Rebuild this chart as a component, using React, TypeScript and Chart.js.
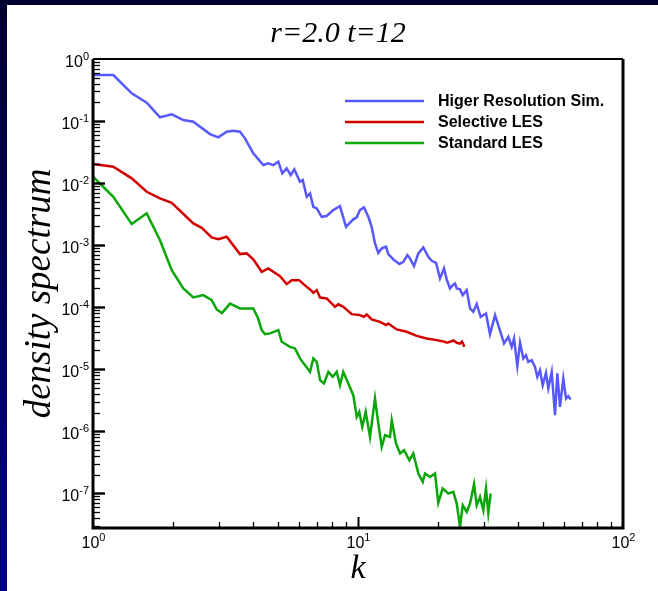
import { useEffect, useRef } from "react";
import { Chart, registerables } from "chart.js";

Chart.register(...registerables);

// ---------------- data ----------------
const chartTitle = "r=2.0 t=12";
const xAxisTitle = "k";
const yAxisTitle = "density spectrum";

const seriesLabels = ["Higer Resolution Sim.", "Selective LES", "Standard LES"];
const seriesColors = ["#5858ff", "#d40000", "#0aa60a"];

const xRange = [1, 100];
const yRange = [2.75e-8, 1];

// Higher resolution simulation
const hiresK = [
  1, 1.193, 1.4, 1.595, 1.79, 1.982, 2.192, 2.391, 2.764, 2.971, 3.195, 3.384, 3.586, 3.746,
  4.026, 4.391, 4.587, 4.791, 5.004, 5.181, 5.383, 5.572, 5.75, 6.04, 6.185, 6.405, 6.592,
  6.783, 6.987, 7.295, 7.619, 8.068, 8.55, 9.01, 9.6, 9.89, 10.17, 10.53, 10.94, 11.26, 11.59,
  11.93, 12.29, 12.76, 13.01, 13.59, 14.32, 14.83, 15.35, 15.71, 16.27, 16.89, 17.64, 18.42,
  18.97, 19.7, 20.39, 21.11, 21.61, 22.24, 22.77, 23.23, 23.58, 24.26, 24.84, 25.72, 26.47,
  27.24, 28.05, 29.04, 30.41, 31.49, 32.89, 34.14, 35.56, 36.92, 38.02, 38.8, 39.92, 40.87,
  42.06, 43.05, 43.92, 45.24, 46.55, 47.49, 48.62, 49.77, 51.22, 52.25, 53.83, 55.39, 56.51,
  57.85, 59.53, 60.95, 62.18, 63.48,
];
const hiresE = [
  0.552, 0.552, 0.28, 0.197, 0.1148, 0.128, 0.1038, 0.0975, 0.0617, 0.0546, 0.0672, 0.0698,
  0.0672, 0.0526, 0.0301, 0.0195, 0.0208, 0.0195, 0.0221, 0.01434, 0.01726, 0.01346, 0.01663,
  0.0105, 0.01118, 0.00601, 0.00682, 0.00415, 0.00391, 0.00286, 0.00294, 0.00367, 0.00426,
  0.00197, 0.0026, 0.0028, 0.00367, 0.00406, 0.00286, 0.00197, 0.001065, 0.000751, 0.000885,
  0.00094, 0.000716, 0.000588, 0.000494, 0.000538, 0.00069, 0.00061, 0.000459, 0.000735,
  0.000918, 0.000648, 0.000558, 0.000518, 0.00029, 0.000421, 0.00028, 0.0002, 0.000226,
  0.000241, 0.0002, 0.000193, 0.000156, 0.000188, 9.53e-5, 8.39e-5, 1.12e-4, 6.98e-5, 7.91e-5,
  3.67e-5, 7.43e-5, 4.53e-5, 2.6e-5, 3.32e-5, 2.29e-5, 3.13e-5, 1.12e-5, 2.66e-5, 1.49e-5,
  1.68e-5, 1.31e-5, 1.4e-5, 1.09e-5, 7.5e-6, 9.64e-6, 5.52e-6, 8.71e-6, 4.89e-6, 9.04e-6,
  1.81e-6, 8.53e-6, 2.47e-6, 7.08e-6, 3.37e-6, 3.67e-6, 3.25e-6,
];

// Selective LES
const selectiveK = [
  1, 1.193, 1.4, 1.595, 1.79, 1.982, 2.391, 2.572, 2.805, 2.971, 3.195, 3.586, 3.802, 4.026,
  4.331, 4.587, 5.078, 5.383, 5.621, 5.99, 6.405, 6.592, 6.783, 6.987, 7.19, 7.619, 8.19, 8.43,
  8.8, 9.47, 10.17, 10.53, 10.79, 11.26, 12.11, 12.76, 13.01, 14.0, 15.27, 16.66, 18.16, 19.82,
  20.99, 21.67, 22.24, 22.94, 23.58, 24.26, 24.69, 24.97, 25.18,
];
const selectiveE = [
  0.0203, 0.0183, 0.0119, 0.00724, 0.00567, 0.00481, 0.00224, 0.0019, 0.00133, 0.00124,
  0.00136, 0.000716, 0.000735, 0.000588, 0.000371, 0.000421, 0.000316, 0.000235, 0.000272,
  0.000272, 0.000212, 0.000193, 0.00017, 0.000188, 0.000143, 0.000138, 0.000101, 0.000111,
  0.000101, 7.71e-5, 7.43e-5, 6.98e-5, 7.62e-5, 6.34e-5, 5.79e-5, 5.13e-5, 5.46e-5, 4.37e-5,
  4.0e-5, 3.44e-5, 3.13e-5, 2.94e-5, 2.8e-5, 2.68e-5, 2.76e-5, 2.9e-5, 2.66e-5, 2.58e-5,
  2.78e-5, 2.53e-5, 2.29e-5,
];

// Standard LES
const standardK = [
  1, 1.193, 1.4, 1.595, 1.79, 1.982, 2.192, 2.391, 2.608, 2.805, 2.929, 3.067, 3.289, 3.586,
  4.026, 4.195, 4.331, 4.457, 4.656, 5.004, 5.154, 5.539, 5.785, 6.04, 6.592, 6.783, 6.987,
  7.19, 7.44, 7.73, 8.03, 8.31, 8.55, 8.8, 9.19, 9.6, 9.89, 10.11, 10.38, 10.69, 11.1, 11.59,
  11.93, 12.29, 12.65, 13.21, 13.41, 13.91, 14.41, 14.92, 15.62, 16.17, 16.89, 17.55, 17.9,
  18.7, 19.53, 20.09, 20.87, 21.92, 22.89, 23.58, 24.26, 24.84, 25.72, 26.47, 27.41, 28.05,
  28.86, 29.71, 30.41, 31.02, 31.68,
];
const standardE = [
  0.01264, 0.00601, 0.00218, 0.00325, 0.0012, 0.000395, 0.0002, 0.000143, 0.000156, 0.00013,
  9.18e-5, 8.0e-5, 1.14e-4, 9.53e-5, 9.53e-5, 6.65e-5, 4.26e-5, 3.67e-5, 3.77e-5, 4.26e-5,
  2.76e-5, 2.29e-5, 2.16e-5, 1.49e-5, 9.04e-6, 1.49e-5, 1.31e-5, 6.65e-6, 5.88e-6, 9.04e-6,
  7.5e-6, 9.04e-6, 5.52e-6, 9.04e-6, 5.88e-6, 3.81e-6, 1.7e-6, 2.05e-6, 1.17e-6, 2.05e-6,
  8.09e-7, 3.37e-6, 1.33e-6, 5.58e-7, 8.61e-7, 8.09e-7, 1.5e-6, 6.33e-7, 4.37e-7, 4.94e-7,
  3.41e-7, 4.37e-7, 2.08e-7, 1.52e-7, 2.08e-7, 1.83e-7, 2.08e-7, 6.98e-8, 1.19e-7, 9.89e-8,
  1.05e-7, 6.82e-8, 2.86e-8, 6.4e-8, 4.99e-8, 6.82e-8, 1.4e-7, 6.4e-8, 8.71e-8, 5.32e-8,
  1.19e-7, 4.81e-8, 9.89e-8,
];

// ---------------- helpers ----------------
const isPow10 = (v: number) => Math.abs(Math.log10(v) - Math.round(Math.log10(v))) < 1e-7;
const isIntMultiple = (v: number) => {
  const m = v / Math.pow(10, Math.floor(Math.log10(v) + 1e-9));
  return Math.abs(m - Math.round(m)) < 1e-6;
};

const pts = (k: number[], e: number[]) => k.map((x, i) => ({ x, y: e[i] }));

const BASE_FONT = "16px 'Liberation Sans', Arial, sans-serif";
const EXP_FONT = "11px 'Liberation Sans', Arial, sans-serif";

// draws "10" with a raised exponent; anchor: 'right' (y axis) or 'center' (x axis)
function drawPow(ctx: any, exp: number, x: number, baseline: number, anchor: "right" | "center") {
  const e = String(exp);
  ctx.font = BASE_FONT;
  const wb = ctx.measureText("10").width;
  ctx.font = EXP_FONT;
  const we = ctx.measureText(e).width;
  const w = wb + we;
  const x0 = anchor === "right" ? x - w : x - w / 2;
  ctx.textAlign = "left";
  ctx.textBaseline = "alphabetic";
  ctx.font = BASE_FONT;
  ctx.fillText("10", x0, baseline);
  ctx.font = EXP_FONT;
  ctx.fillText(e, x0 + wb, baseline - 7);
}

const framePlugin = {
  id: "frame",
  afterDraw(chart: any) {
    const { ctx, chartArea: a, scales } = chart;
    const xs = scales.x;
    const ys = scales.y;
    ctx.save();
    ctx.strokeStyle = "#000";
    ctx.fillStyle = "#000";
    // x ticks (inward) and decade labels
    for (const t of xs.ticks) {
      const v = t.value;
      if (!isIntMultiple(v)) continue;
      const px = Math.round(xs.getPixelForValue(v)) + 0.5;
      const major = isPow10(v);
      if (major) drawPow(ctx, Math.round(Math.log10(v)), px, a.bottom + 20, "center");
      if (v <= xRange[0] || v >= xRange[1]) continue;
      ctx.lineWidth = major ? 2 : 1.3;
      ctx.beginPath();
      ctx.moveTo(px, a.bottom);
      ctx.lineTo(px, a.bottom - (major ? 11 : 6));
      ctx.stroke();
    }
    // y ticks (inward) and decade labels
    for (const t of ys.ticks) {
      const v = t.value;
      if (!isIntMultiple(v)) continue;
      const py = Math.round(ys.getPixelForValue(v)) + 0.5;
      const major = isPow10(v);
      if (major) drawPow(ctx, Math.round(Math.log10(v)), a.left - 4, py + 7, "right");
      if (v <= yRange[0] || v >= yRange[1]) continue;
      ctx.lineWidth = major ? 2.4 : 1.3;
      ctx.beginPath();
      ctx.moveTo(a.left, py);
      ctx.lineTo(a.left + (major ? 12 : 7), py);
      ctx.stroke();
    }
    // frame
    ctx.lineWidth = 3;
    ctx.beginPath();
    ctx.moveTo(a.left, a.top);
    ctx.lineTo(a.left, a.bottom);
    ctx.lineTo(a.right, a.bottom);
    ctx.lineTo(a.right, a.top);
    ctx.stroke();
    ctx.lineWidth = 2;
    ctx.beginPath();
    ctx.moveTo(a.left, a.top);
    ctx.lineTo(a.right, a.top);
    ctx.stroke();

    // legend
    const ds = chart.data.datasets;
    ctx.font = "bold 16px 'Liberation Sans', Arial, sans-serif";
    ctx.textAlign = "left";
    ctx.textBaseline = "middle";
    ds.forEach((d: any, i: number) => {
      const y = a.top + 42 + i * 21;
      ctx.strokeStyle = d.borderColor;
      ctx.lineWidth = 2.5;
      ctx.beginPath();
      ctx.moveTo(a.left + 252, y);
      ctx.lineTo(a.left + 331, y);
      ctx.stroke();
      ctx.fillStyle = "#000";
      ctx.fillText(d.label, a.left + 345, y + 1);
    });

    // titles
    ctx.fillStyle = "#000";
    ctx.font = "italic 30px 'Liberation Serif', 'Times New Roman', serif";
    ctx.textAlign = "center";
    ctx.textBaseline = "alphabetic";
    ctx.fillText(chartTitle, (a.left + a.right) / 2 - 20, 42);
    ctx.font = "italic 34px 'Liberation Serif', 'Times New Roman', serif";
    ctx.fillText(xAxisTitle, (a.left + a.right) / 2, 578);
    ctx.save();
    ctx.translate(50, (a.top + a.bottom) / 2);
    ctx.rotate(-Math.PI / 2);
    ctx.font = "italic 37px 'Liberation Serif', 'Times New Roman', serif";
    ctx.fillText(yAxisTitle, 0, 0);
    ctx.restore();
    ctx.restore();
  },
};

export default function App() {
  const ref = useRef<HTMLCanvasElement | null>(null);
  useEffect(() => {
    if (!ref.current) return;
    const chart = new Chart(ref.current, {
      type: "scatter",
      data: {
        datasets: [
          { label: seriesLabels[0], data: pts(hiresK, hiresE), borderColor: seriesColors[0] },
          { label: seriesLabels[1], data: pts(selectiveK, selectiveE), borderColor: seriesColors[1] },
          { label: seriesLabels[2], data: pts(standardK, standardE), borderColor: seriesColors[2] },
        ].map((d) => ({
          ...d,
          showLine: true,
          borderWidth: 2.5,
          pointRadius: 0,
          pointHoverRadius: 0,
          backgroundColor: d.borderColor,
          tension: 0,
        })),
      },
      options: {
        animation: false,
        responsive: false,
        devicePixelRatio: 1,
        layout: { padding: { top: 59, right: 35, left: 0, bottom: 0 } },
        plugins: { legend: { display: false }, tooltip: { enabled: false }, title: { display: false } },
        scales: {
          x: {
            type: "logarithmic",
            min: xRange[0],
            max: xRange[1],
            grid: { display: false, drawTicks: false },
            border: { display: false },
            ticks: { display: false, autoSkip: false },
            afterFit: (s: any) => {
              s.height = 63;
            },
          },
          y: {
            type: "logarithmic",
            min: yRange[0],
            max: yRange[1],
            grid: { display: false, drawTicks: false },
            border: { display: false },
            ticks: { display: false, autoSkip: false },
            afterFit: (s: any) => {
              s.width = 93;
            },
          },
        },
      },
      plugins: [framePlugin],
    } as any);
    return () => chart.destroy();
  }, []);

  return (
    <div
      style={{
        position: "fixed",
        left: 0,
        top: 0,
        width: 658,
        height: 591,
        background: "linear-gradient(to bottom, #00002e 0%, #000050 40%, #00008c 100%)",
        overflow: "hidden",
      }}
    >
      <div style={{ position: "absolute", left: 7, top: 5, right: 0, bottom: 0, background: "#fff" }} />
      <canvas ref={ref} width={658} height={591} style={{ position: "absolute", left: 0, top: 0 }} />
    </div>
  );
}
